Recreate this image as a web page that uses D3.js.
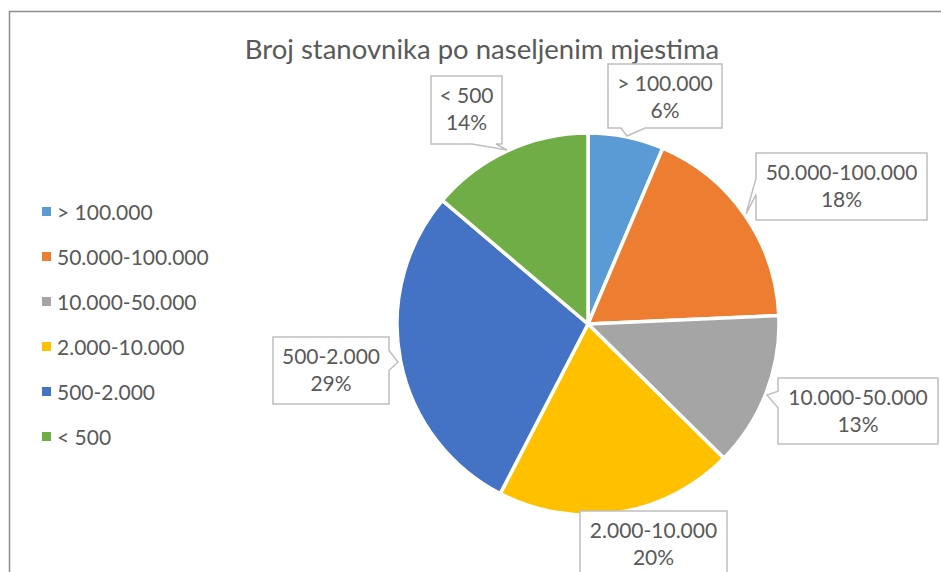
<!DOCTYPE html>
<html><head><meta charset="utf-8">
<script src="https://cdn.jsdelivr.net/npm/d3@7/dist/d3.min.js"></script>
<style>body{margin:0;background:#fff;} svg{display:block;}</style>
</head><body>
<svg id="c" width="941" height="572"></svg>
<script>
const categories = ["> 100.000", "50.000-100.000", "10.000-50.000", "2.000-10.000", "500-2.000", "< 500"];
const values = [6.4, 17.9, 13.1, 20.2, 28.6, 13.8];
const colors = ["#5B9BD5", "#ED7D31", "#A5A5A5", "#FFC000", "#4472C4", "#70AD47"];
const title = "Broj stanovnika po naseljenim mjestima";
// label box layouts: [x, y, w, h, pointer tip x, tip y, pointer side]
const labelBoxes = [
  [608, 64, 114, 64, 627, 136, "bottom"],
  [756, 153, 171, 67, 746, 214, "left"],
  [778, 378, 160, 66, 767, 395, "left"],
  [580, 511, 147, 70, null, null, null],
  [273, 337, 116, 67, 398, 362, "right"],
  [431, 76, 71, 68, 507, 150, "bottom"]
];

const svg = d3.select("#c");
const font = "Lato, 'Liberation Sans', sans-serif";
const txt = "#595959";

// frame
svg.append("path").attr("d", "M9.5,572 L9.5,11.5 L941,11.5").attr("fill","none").attr("stroke","#8c8c8c").attr("stroke-width",1.5);

svg.append("text").attr("x", 482).attr("y", 59).attr("text-anchor","middle")
  .attr("font-family", font).attr("font-size", 27.5).attr("fill", txt).text(title);

const cx = 588, cy = 324, r = 191;
const total = d3.sum(values);
const pie = d3.pie().sort(null).value(d => d)(values);
const arc = d3.arc().innerRadius(0).outerRadius(r);
const g = svg.append("g").attr("transform", `translate(${cx},${cy})`);
g.selectAll("path").data(pie).join("path")
  .attr("d", arc).attr("fill", (d,i) => colors[i])
  .attr("stroke", "#fff").attr("stroke-width", 3.5).attr("stroke-linejoin","round");

// labels
labelBoxes.forEach((b, i) => {
  const [x, y, w, h, tx, ty, side] = b;
  let d;
  if (side === "bottom") {
    const ax = tx < x + w/2 ? Math.max(x + 8, tx - 6) : Math.min(x + w - 30, tx - 30);
    const bx = ax + 24;
    d = `M${x},${y} H${x+w} V${y+h} H${bx} L${tx},${ty} L${ax},${y+h} H${x} Z`;
  } else if (side === "left") {
    d = `M${x},${y} H${x+w} V${y+h} H${x} V${y+h*0.62} L${tx},${ty} L${x},${y+h*0.38} Z`;
    if (ty < y + h/2) d = `M${x},${y} H${x+w} V${y+h} H${x} V${y+h*0.45} L${tx},${ty} L${x},${y+h*0.2} Z`;
  } else if (side === "right") {
    d = `M${x},${y} H${x+w} V${y+h*0.2} L${tx},${ty} L${x+w},${y+h*0.5} V${y+h} H${x} Z`;
  } else {
    d = `M${x},${y} H${x+w} V${y+h} H${x} Z`;
  }
  svg.append("path").attr("d", d).attr("fill", "#fff").attr("stroke", "#bfbfbf").attr("stroke-width", 1.5);
  const t = svg.append("text").attr("text-anchor","middle").attr("font-family", font)
    .attr("font-size", 21).attr("fill", txt);
  t.append("tspan").attr("x", x + w/2).attr("y", y + 27).text(categories[i]);
  t.append("tspan").attr("x", x + w/2).attr("y", y + 54).text(Math.round(values[i] / total * 100) + "%");
});

// legend
const lg = svg.append("g");
categories.forEach((c, i) => {
  const yy = 212 + i * 45;
  lg.append("rect").attr("x", 42).attr("y", yy - 5).attr("width", 9).attr("height", 9).attr("fill", colors[i]);
  lg.append("text").attr("x", 57).attr("y", yy + 7.5).attr("font-family", font).attr("font-size", 21)
    .attr("fill", txt).text(c);
});
</script>
</body></html>
